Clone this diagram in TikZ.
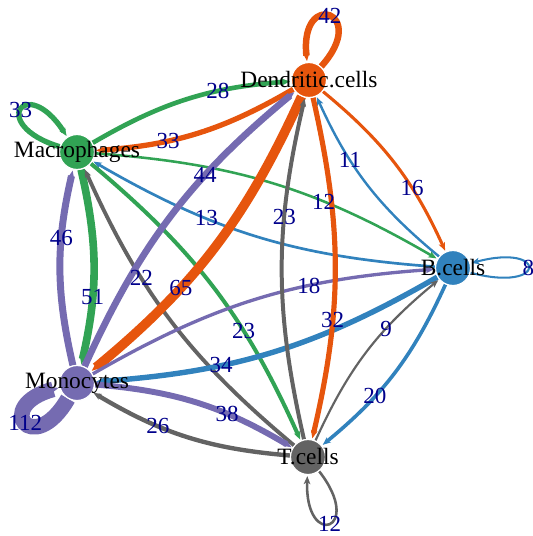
\documentclass[tikz,border=0pt]{standalone}
\usepackage{fontspec}
\setmainfont{Liberation Serif}
\usetikzlibrary{arrows.meta}
\definecolor{mac}{HTML}{31A354}
\definecolor{den}{HTML}{E6550D}
\definecolor{bcl}{HTML}{3182BD}
\definecolor{mon}{HTML}{756BB1}
\definecolor{tcl}{HTML}{636363}
\definecolor{numblue}{RGB}{0,0,139}
\pgfdeclarelayer{links}
\pgfsetlayers{links,main}

\begin{document}
\begin{tikzpicture}[
    x=1pt,y=-1pt,
    cell/.style={circle, fill=#1, draw=white, line width=1.2pt, minimum size=35pt, inner sep=0pt},
    cellname/.style={font=\rmfamily\fontsize{23.4}{25}\selectfont, inner sep=0pt},
    num/.style={font=\rmfamily\fontsize{23}{25}\selectfont, text=numblue, inner sep=0pt},
    link/.style={-{Stealth[length=8pt,width=6.5pt,inset=2pt]}, shorten >=1pt}
]
    \useasboundingbox (0,0) rectangle (533,536);

    \node[cell=den] (den) at (309,80) {};
    \node[cell=mac] (mac) at (77,152) {};
    \node[cell=bcl] (bcl) at (453,268) {};
    \node[cell=mon] (mon) at (77,383) {};
    \node[cell=tcl] (tcl) at (308,457) {};

    \node[cellname] (den-name) at (den) {Dendritic.cells};
    \node[cellname] (mac-name) at (mac) {Macrophages};
    \node[cellname] (bcl-name) at (bcl) {B.cells};
    \node[cellname] (mon-name) at (mon) {Monocytes};
    \node[cellname] (tcl-name) at (tcl) {T.cells};

    % self loops
    \foreach \v/\n/\o/\i/\d in {den/42/48/96/74, mac/33/163/123/76, bcl/8/-15/15/80, mon/112/240/195/70, tcl/12/-52/-92/75} {
        \pgfmathsetmacro\w{1+0.13*\n}
        \begin{pgfonlayer}{links}
            \draw[link, draw=\v, line width=\w pt] (\v) to[out=\o, in=\i, min distance=\d pt] coordinate[pos=0.5] (n-\v) (\v);
        \end{pgfonlayer}
        \node[num] at (n-\v) {\n};
    }

    % links between cell groups, coloured by sender
    \foreach \s/\t/\n in {mac/den/28, den/mac/33, den/bcl/16, bcl/den/11, bcl/mac/13, mac/bcl/12,
                          mon/mac/46, mac/mon/51, mac/tcl/23, tcl/mac/22, mon/den/44, den/mon/65,
                          mon/bcl/18, bcl/mon/34, mon/tcl/38, tcl/mon/26, den/tcl/32, tcl/den/23,
                          bcl/tcl/20, tcl/bcl/9} {
        \pgfmathsetmacro\w{1+0.13*\n}
        \begin{pgfonlayer}{links}
            \draw[link, draw=\s, line width=\w pt] (\s) to[bend left=13] coordinate[pos=0.66] (n-\s-\t) (\t);
        \end{pgfonlayer}
        \node[num] at (n-\s-\t) {\n};
    }
\end{tikzpicture}
\end{document}
